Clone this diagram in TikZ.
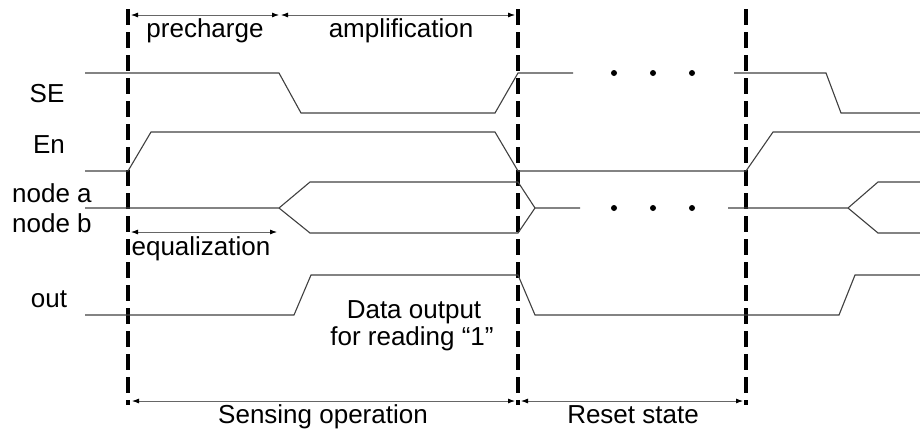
\documentclass[tikz,border=0pt]{standalone}
\usepackage{fontspec}
\setmainfont{Liberation Sans}
\usetikzlibrary{arrows.meta}
\begin{document}
\begin{tikzpicture}[x=1pt,y=-1pt,
  sig/.style={draw=black!75,line width=1.1pt},
  phase/.style={draw=black,line width=4.5pt,dash pattern=on 16pt off 7pt},
  dim/.style={draw=black!60,line width=0.8pt,{Latex[length=7pt,width=5pt,black]}-{Latex[length=7pt,width=5pt,black]}},
  lbl/.style={inner sep=0pt,anchor=base,font=\fontsize{26}{31}\selectfont},
  dot/.style={circle,fill=black,inner sep=0pt,minimum size=6pt}]
\useasboundingbox (0,0) rectangle (920,432);

% phase boundaries
\coordinate (t1top) at (128,9);   \coordinate (t1bot) at (128,405);
\coordinate (t2top) at (518,9);   \coordinate (t2bot) at (518,405);
\coordinate (t3top) at (746,9);   \coordinate (t3bot) at (746,405);
\draw[phase] (t1top) -- (t1bot);
\draw[phase] (t2top) -- (t2bot);
\draw[phase] (t3top) -- (t3bot);

% phase extents along the top
\coordinate (pa) at (131,15); \coordinate (pb) at (279,15);
\coordinate (pc) at (281,15); \coordinate (pd) at (515,15);
\draw[dim] (pa) -- (pb);
\draw[dim] (pc) -- (pd);
\node[lbl] (lpre) at (205,37) {precharge};
\node[lbl] (lamp) at (401,37) {amplification};

% signal names
\node[lbl] (lse)  at (47,102) {SE};
\node[lbl] (len)  at (49,153) {En};
\node[lbl,anchor=base west] (lna) at (12,202) {node a};
\node[lbl,anchor=base west] (lnb) at (12,232) {node b};
\node[lbl] (lout) at (49,307) {out};

% SE
\draw[sig] (85,73) -- (279,73) -- (301,113) -- (495,113) -- (518,73) -- (573,73);
\draw[sig] (734,73) -- (826,73) -- (841,113) -- (920,113);
\node[dot] (se1) at (614,73) {};
\node[dot] (se2) at (653,73) {};
\node[dot] (se3) at (692,73) {};

% En
\draw[sig] (85,171) -- (128,171) -- (151,132) -- (495,132) -- (518,171) -- (746,171) -- (773,132) -- (920,132);

% node a / node b
\draw[sig] (85,208) -- (279,208) -- (310,182) -- (518,182) -- (535,208) -- (580,208);
\draw[sig] (279,208) -- (310,233) -- (518,233) -- (535,208);
\draw[sig] (728,208) -- (848,208) -- (878,182) -- (920,182);
\draw[sig] (848,208) -- (878,233) -- (920,233);
\node[dot] (nd1) at (614,208) {};
\node[dot] (nd2) at (653,208) {};
\node[dot] (nd3) at (692,208) {};

% equalization
\coordinate (ea) at (131,232); \coordinate (eb) at (277,232);
\draw[dim] (ea) -- (eb);
\node[lbl] (leq) at (201,255) {equalization};

% out
\draw[sig] (85,315) -- (294,315) -- (311,275) -- (518,275) -- (535,315) -- (839,315) -- (855,275) -- (920,275);
\node[lbl] (ld1) at (414,318) {Data output};
\node[lbl] (ld2) at (412,345) {for reading “1”};

% operation extents along the bottom
\coordinate (sa) at (132,401); \coordinate (sb) at (515,401);
\coordinate (ra) at (521,401); \coordinate (rb) at (743,401);
\draw[dim] (sa) -- (sb);
\draw[dim] (ra) -- (rb);
\node[lbl] (lsense) at (323,423) {Sensing operation};
\node[lbl] (lreset) at (633,423) {Reset state};
\end{tikzpicture}
\end{document}
